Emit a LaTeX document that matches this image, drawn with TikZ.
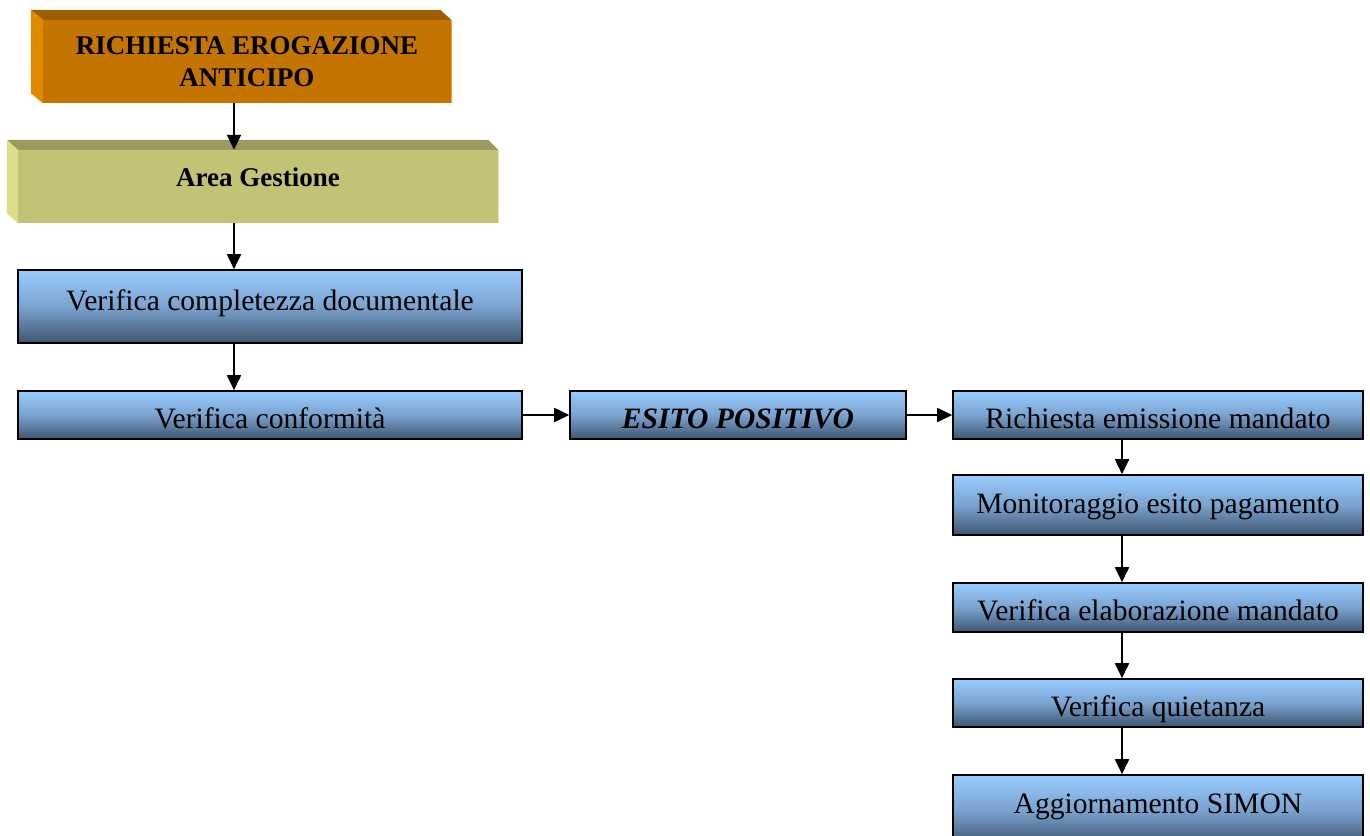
\documentclass[tikz,border=0pt]{standalone}
\usepackage{fontspec}
\setmainfont{Liberation Serif}
\usetikzlibrary{arrows.meta}
\definecolor{orfront}{HTML}{C47500}
\definecolor{ortop}{HTML}{9C5E00}
\definecolor{orleft}{HTML}{E08A00}
\definecolor{oredge}{HTML}{F0A030}
\definecolor{grfront}{HTML}{C3C376}
\definecolor{grtop}{HTML}{9C9B5F}
\definecolor{grleft}{HTML}{DEDE88}
\definecolor{gredge}{HTML}{E8E8A4}
\definecolor{blueTop}{HTML}{99CCFF}
\definecolor{blueMid}{HTML}{7AA3CF}
\definecolor{blueBot}{HTML}{3F5570}
\begin{document}
\begin{tikzpicture}[x=1pt,y=-1pt,
  flow/.style={rectangle, draw=black, line width=1.6pt, top color=blueTop, bottom color=blueBot, middle color=blueMid, inner sep=0pt, text=black, font=\fontsize{29.6}{34}\selectfont},
  tb/.style={text height=#1, text depth=0pt},
  face/.style={rectangle, inner sep=0pt, text=black},
  arr/.style={line width=1.8pt, -{Triangle[length=15pt,width=14pt]}}]
\useasboundingbox (0,0) rectangle (1370,835);
\fill[white] (0,0) rectangle (1370,835);

% orange 3D box
\node[face, fill=orfront, minimum width=408pt, minimum height=83pt, align=center,
      font=\bfseries\fontsize{27}{32}\selectfont] (o) at (247,61.5)
      {RICHIESTA EROGAZIONE\\ANTICIPO};
\fill[ortop] (o.north west) -- ++(-12,-10) -- ([xshift=-11pt,yshift=10pt]o.north east) -- (o.north east) -- cycle;
\fill[orleft] (o.north west) -- ++(-12,-10) -- ([xshift=-12pt,yshift=10pt]o.south west) -- (o.south west) -- cycle;
\draw[oredge, line width=1.2pt] ([xshift=0.6pt]o.north east) -- ([xshift=0.6pt]o.south east);

% green 3D box
\node[face, fill=grfront, minimum width=480pt, minimum height=73pt, text height=0pt, text depth=1pt,
      font=\bfseries\fontsize{27}{32}\selectfont] (g) at (258,186.5) {Area Gestione};
\fill[grtop] (g.north west) -- ++(-11,-10) -- ([xshift=-10pt,yshift=10pt]g.north east) -- (g.north east) -- cycle;
\fill[grleft] (g.north west) -- ++(-11,-10) -- ([xshift=-11pt,yshift=10pt]g.south west) -- (g.south west) -- cycle;
\draw[gredge, line width=1.2pt] ([xshift=0.6pt]g.north east) -- ([xshift=0.6pt]g.south east);

% blue boxes
\node[flow, minimum width=504pt, minimum height=73pt, tb=7pt]  (vcd) at (270,306.5) {Verifica completezza documentale};
\node[flow, minimum width=504pt, minimum height=48pt, tb=26pt] (vc)  at (270,415) {Verifica conformità};
\node[flow, minimum width=336pt, minimum height=48pt, tb=26pt, font=\bfseries\itshape\fontsize{29.6}{34}\selectfont] (es) at (738,415) {ESITO POSITIVO};
\node[flow, minimum width=410pt, minimum height=48pt, tb=26pt] (re)  at (1158,415) {Richiesta emissione mandato};
\node[flow, minimum width=410pt, minimum height=60pt, tb=16pt] (mon) at (1158,505) {Monitoraggio esito pagamento};
\node[flow, minimum width=410pt, minimum height=49pt, tb=25pt] (vem) at (1158,607.5) {Verifica elaborazione mandato};
\node[flow, minimum width=410pt, minimum height=48pt, tb=27pt] (vq)  at (1158,703) {Verifica quietanza};
\node[flow, minimum width=410pt, minimum height=70pt, tb=6pt] (as)  at (1158,810) {Aggiornamento SIMON};

% arrow columns
\coordinate (ax) at (234,0);
\coordinate (bx) at (1122,0);

\draw[arr] (o.south -| ax) -- (g.north -| ax);
\draw[arr] (g.south -| ax) -- (vcd.north -| ax);
\draw[arr] (vcd.south -| ax) -- (vc.north -| ax);
\draw[arr] (vc.east) -- (es.west);
\draw[arr] (es.east) -- (re.west);
\draw[arr] (re.south -| bx) -- (mon.north -| bx);
\draw[arr] (mon.south -| bx) -- (vem.north -| bx);
\draw[arr] (vem.south -| bx) -- (vq.north -| bx);
\draw[arr] (vq.south -| bx) -- (as.north -| bx);
\end{tikzpicture}
\end{document}
